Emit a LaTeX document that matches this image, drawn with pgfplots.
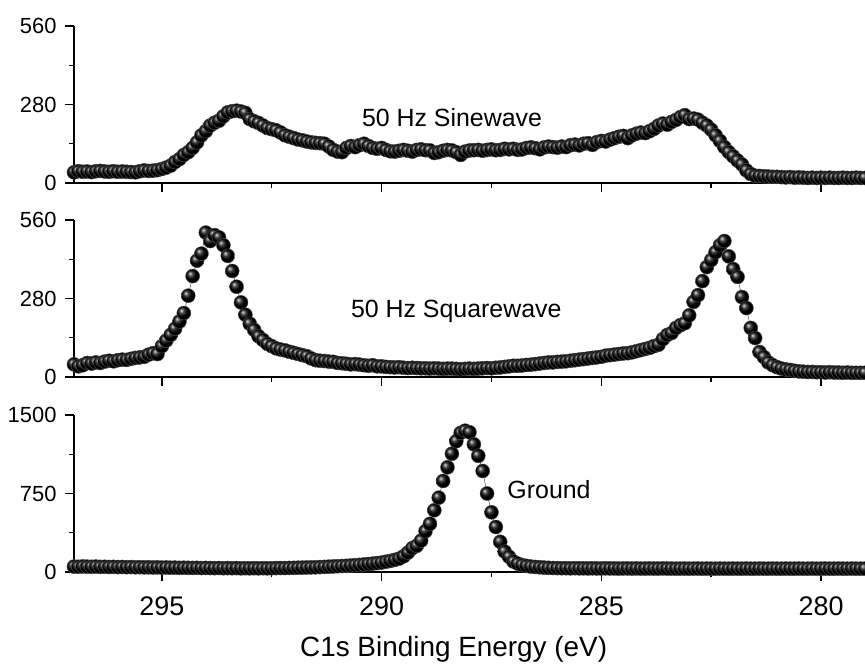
\documentclass[border=0pt]{standalone}
\usepackage{pgfplots}
\pgfplotsset{compat=1.18}
\usepackage{fontspec}
\setmainfont{Liberation Sans}

\pgfplotsset{
  panel/.style={
    scale only axis, width=791bp, height=157bp,
    xmin=279, xmax=297, x dir=reverse,
    axis x line*=bottom, axis y line*=left,
    axis line style={line width=1.4bp},
    tick align=outside,
    major tick length=9bp, minor tick length=5bp,
    every tick/.append style={line width=1.4bp, black},
    every minor tick/.append style={line width=1.4bp, black},
    xtick={280,285,290,295}, minor x tick num=1,
    minor y tick num=1,
    /pgf/number format/assume math mode=true,
    /pgf/number format/1000 sep={},
    yticklabel style={font=\fontsize{22}{22}\selectfont, xshift=-5bp},
    xticklabel style={font=\fontsize{27}{27}\selectfont, yshift=-12bp},
    clip=false,
  },
  spec/.style={draw=black!70, line width=0.5pt, mark=ball, mark size=7bp, mark options={ball color=black}},
}

\begin{document}
\begin{tikzpicture}
\useasboundingbox (0,0) rectangle (865bp,671bp);

% ---------- Panel 1: 50 Hz Sinewave ----------
\begin{axis}[panel, at={(74bp,488bp)}, anchor=south west,
  ymin=0, ymax=560, ytick={0,280,560}, xticklabels={}]
\addplot[spec] coordinates {
(297.0,38) (296.9,42) (296.8,40) (296.7,41) (296.6,39) (296.5,42) (296.4,43) (296.3,41) (296.2,40) (296.1,42)
(296.0,40) (295.9,41) (295.8,40) (295.7,39) (295.6,38) (295.5,42) (295.4,45) (295.3,43) (295.2,44) (295.1,46)
(295.0,50) (294.9,55) (294.8,62) (294.7,75) (294.6,85) (294.5,100) (294.4,110) (294.3,125) (294.2,145) (294.1,170)
(294.0,185) (293.9,205) (293.8,215) (293.7,222) (293.6,238) (293.5,252) (293.4,256) (293.3,258) (293.2,255) (293.1,250)
(293.0,228) (292.9,220) (292.8,214) (292.7,205) (292.6,196) (292.5,192) (292.4,188) (292.3,180) (292.2,170) (292.1,165)
(292.0,160) (291.9,155) (291.8,152) (291.7,148) (291.6,145) (291.5,143) (291.4,142) (291.3,140) (291.2,130) (291.1,118)
(291.0,112) (290.9,110) (290.8,125) (290.7,132) (290.6,128) (290.5,135) (290.4,140) (290.3,132) (290.2,125) (290.1,122)
(290.0,125) (289.9,118) (289.8,113) (289.7,112) (289.6,115) (289.5,118) (289.4,115) (289.3,112) (289.2,118) (289.1,120)
(289.0,117) (288.9,116) (288.8,107) (288.7,110) (288.6,115) (288.5,118) (288.4,116) (288.3,110) (288.2,100) (288.1,112)
(288.0,116) (287.9,117) (287.8,118) (287.7,115) (287.6,118) (287.5,120) (287.4,117) (287.3,118) (287.2,122) (287.1,120)
(287.0,122) (286.9,118) (286.8,120) (286.7,125) (286.6,127) (286.5,124) (286.4,120) (286.3,127) (286.2,130) (286.1,128)
(286.0,126) (285.9,130) (285.8,128) (285.7,135) (285.6,137) (285.5,134) (285.4,140) (285.3,142) (285.2,136) (285.1,146)
(285.0,150) (284.9,148) (284.8,155) (284.7,160) (284.6,165) (284.5,168) (284.4,160) (284.3,170) (284.2,176) (284.1,180)
(284.0,178) (283.9,185) (283.8,193) (283.7,205) (283.6,212) (283.5,208) (283.4,218) (283.3,225) (283.2,235) (283.1,242)
(283.0,228) (282.9,230) (282.8,226) (282.7,215) (282.6,205) (282.5,190) (282.4,170) (282.3,150) (282.2,128) (282.1,110)
(282.0,95) (281.9,80) (281.8,66) (281.7,45) (281.6,32) (281.5,26) (281.4,25) (281.3,24) (281.2,23) (281.1,22)
(281.0,22) (280.9,21) (280.8,20) (280.7,21) (280.6,19) (280.5,20) (280.4,19) (280.3,18) (280.2,19) (280.1,18)
(280.0,19) (279.9,18) (279.8,19) (279.7,18) (279.6,18) (279.5,19) (279.4,18) (279.3,18) (279.2,19) (279.1,18)
(279.0,18)
};
\node[anchor=base west, font=\fontsize{25}{25}\selectfont, inner sep=0pt] at (axis cs:290.45,200) {50 Hz Sinewave};
\end{axis}

% ---------- Panel 2: 50 Hz Squarewave ----------
\begin{axis}[panel, at={(74bp,294bp)}, anchor=south west,
  ymin=0, ymax=560, ytick={0,280,560}, xticklabels={}]
\addplot[spec] coordinates {
(297.0,45) (296.9,38) (296.8,42) (296.7,50) (296.6,48) (296.5,52) (296.4,50) (296.3,55) (296.2,58) (296.1,56)
(296.0,60) (295.9,62) (295.8,61) (295.7,65) (295.6,68) (295.5,70) (295.4,72) (295.3,80) (295.2,85) (295.1,82)
(295.0,110) (294.9,130) (294.8,150) (294.7,172) (294.6,198) (294.5,228) (294.4,290) (294.3,360) (294.2,415) (294.1,440)
(294.0,515) (293.9,485) (293.8,506) (293.7,498) (293.6,470) (293.5,432) (293.4,378) (293.3,322) (293.2,266) (293.1,222)
(293.0,190) (292.9,168) (292.8,145) (292.7,132) (292.6,118) (292.5,110) (292.4,102) (292.3,98) (292.2,95) (292.1,90)
(292.0,86) (291.9,82) (291.8,78) (291.7,74) (291.6,66) (291.5,60) (291.4,58) (291.3,57) (291.2,55) (291.1,54)
(291.0,50) (290.9,49) (290.8,47) (290.7,45) (290.6,46) (290.5,44) (290.4,42) (290.3,40) (290.2,42) (290.1,38)
(290.0,38) (289.9,36) (289.8,35) (289.7,34) (289.6,35) (289.5,33) (289.4,32) (289.3,33) (289.2,32) (289.1,31)
(289.0,31) (288.9,30) (288.8,31) (288.7,30) (288.6,29) (288.5,30) (288.4,30) (288.3,29) (288.2,28) (288.1,29)
(288.0,30) (287.9,29) (287.8,30) (287.7,31) (287.6,32) (287.5,31) (287.4,33) (287.3,34) (287.2,36) (287.1,38)
(287.0,40) (286.9,40) (286.8,41) (286.7,43) (286.6,44) (286.5,46) (286.4,48) (286.3,50) (286.2,52) (286.1,52)
(286.0,54) (285.9,55) (285.8,56) (285.7,58) (285.6,60) (285.5,62) (285.4,64) (285.3,66) (285.2,68) (285.1,70)
(285.0,72) (284.9,76) (284.8,78) (284.7,80) (284.6,82) (284.5,84) (284.4,85) (284.3,88) (284.2,92) (284.1,96)
(284.0,100) (283.9,104) (283.8,110) (283.7,115) (283.6,135) (283.5,150) (283.4,157) (283.3,175) (283.2,185) (283.1,192)
(283.0,220) (282.9,268) (282.8,292) (282.7,342) (282.6,392) (282.5,417) (282.4,445) (282.3,470) (282.2,485) (282.1,430)
(282.0,385) (281.9,357) (281.8,285) (281.7,246) (281.6,175) (281.5,139) (281.4,89) (281.3,71) (281.2,52) (281.1,42)
(281.0,35) (280.9,30) (280.8,27) (280.7,25) (280.6,22) (280.5,20) (280.4,19) (280.3,18) (280.2,18) (280.1,17)
(280.0,17) (279.9,16) (279.8,17) (279.7,16) (279.6,16) (279.5,15) (279.4,16) (279.3,15) (279.2,15) (279.1,15)
(279.0,15)
};
\node[anchor=base west, font=\fontsize{25}{25}\selectfont, inner sep=0pt] at (axis cs:290.70,214) {50 Hz Squarewave};
\end{axis}

% ---------- Panel 3: Ground ----------
\begin{axis}[panel, at={(74bp,99bp)}, anchor=south west,
  ymin=0, ymax=1500, ytick={0,750,1500},
  xlabel={C1s Binding Energy (eV)},
  xlabel style={font=\fontsize{28}{28}\selectfont, at={(axis description cs:0.48,-0.54)}, anchor=base}]
\addplot[spec] coordinates {
(297.0,52) (296.9,50) (296.8,53) (296.7,51) (296.6,50) (296.5,52) (296.4,49) (296.3,50) (296.2,48) (296.1,49)
(296.0,47) (295.9,48) (295.8,46) (295.7,47) (295.6,45) (295.5,46) (295.4,44) (295.3,45) (295.2,43) (295.1,44)
(295.0,42) (294.9,43) (294.8,41) (294.7,42) (294.6,40) (294.5,41) (294.4,40) (294.3,39) (294.2,40) (294.1,38)
(294.0,39) (293.9,38) (293.8,37) (293.7,38) (293.6,36) (293.5,37) (293.4,36) (293.3,37) (293.2,35) (293.1,36)
(293.0,35) (292.9,36) (292.8,35) (292.7,36) (292.6,35) (292.5,36) (292.4,37) (292.3,38) (292.2,38) (292.1,39)
(292.0,40) (291.9,41) (291.8,42) (291.7,43) (291.6,44) (291.5,45) (291.4,47) (291.3,49) (291.2,51) (291.1,53)
(291.0,55) (290.9,57) (290.8,59) (290.7,62) (290.6,65) (290.5,68) (290.4,72) (290.3,76) (290.2,80) (290.1,85)
(290.0,90) (289.9,98) (289.8,106) (289.7,116) (289.6,128) (289.5,150) (289.4,185) (289.3,228) (289.2,250) (289.1,300)
(289.0,390) (288.9,460) (288.8,590) (288.7,710) (288.6,870) (288.5,1000) (288.4,1130) (288.3,1250) (288.2,1330) (288.1,1350)
(288.0,1335) (287.9,1220) (287.8,1110) (287.7,965) (287.6,750) (287.5,570) (287.4,430) (287.3,288) (287.2,195) (287.1,145)
(287.0,100) (286.9,80) (286.8,66) (286.7,58) (286.6,52) (286.5,48) (286.4,45) (286.3,42) (286.2,40) (286.1,38)
(286.0,37) (285.9,36) (285.8,36) (285.7,35) (285.6,36) (285.5,35) (285.4,35) (285.3,34) (285.2,35) (285.1,34)
(285.0,34) (284.9,35) (284.8,34) (284.7,34) (284.6,33) (284.5,34) (284.4,34) (284.3,33) (284.2,34) (284.1,33)
(284.0,33) (283.9,34) (283.8,33) (283.7,33) (283.6,34) (283.5,33) (283.4,33) (283.3,32) (283.2,33) (283.1,33)
(283.0,32) (282.9,33) (282.8,33) (282.7,32) (282.6,33) (282.5,32) (282.4,32) (282.3,33) (282.2,32) (282.1,32)
(282.0,33) (281.9,32) (281.8,32) (281.7,33) (281.6,32) (281.5,32) (281.4,33) (281.3,32) (281.2,32) (281.1,33)
(281.0,32) (280.9,32) (280.8,33) (280.7,32) (280.6,32) (280.5,33) (280.4,32) (280.3,32) (280.2,33) (280.1,32)
(280.0,32) (279.9,33) (279.8,32) (279.7,32) (279.6,33) (279.5,32) (279.4,32) (279.3,33) (279.2,32) (279.1,32)
(279.0,32)
};
\node[anchor=base west, font=\fontsize{25}{25}\selectfont, inner sep=0pt] at (axis cs:287.14,702) {Ground};
\end{axis}
\end{tikzpicture}
\end{document}
